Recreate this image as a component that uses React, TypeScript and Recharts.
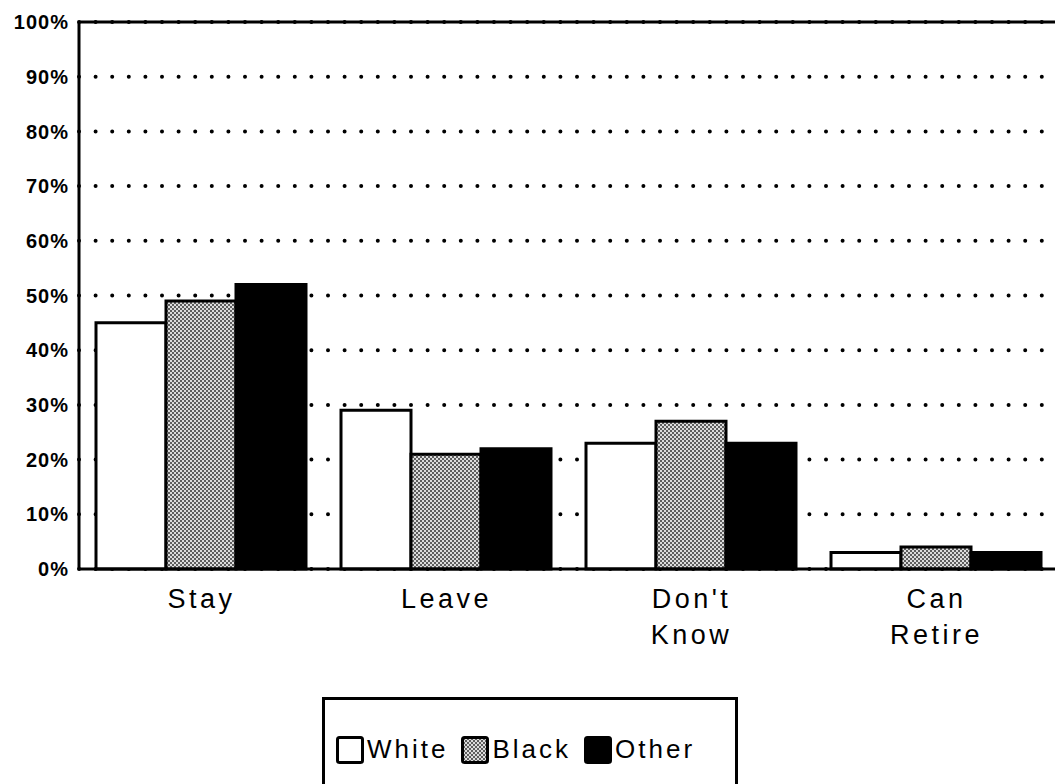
import {
  BarChart, Bar, XAxis, YAxis, CartesianGrid, ReferenceLine, Legend,
} from "recharts";

const categories = ["Stay", "Leave", "Don't\nKnow", "Can\nRetire"];
const white = [45, 29, 23, 3];
const black = [49, 21, 27, 4];
const other = [52, 22, 23, 3];
const yTicks = [0, 10, 20, 30, 40, 50, 60, 70, 80, 90, 100];

const data = categories.map((name, i) => ({
  name, White: white[i], Black: black[i], Other: other[i],
}));

const FONT = "'Liberation Sans', Arial, Helvetica, sans-serif";

const CategoryTick = ({ x, y, payload }: any) => {
  const lines = String(payload.value).split("\n");
  return (
    <text x={x} y={y} textAnchor="middle" fontFamily={FONT} fontSize={27}
      letterSpacing={3.5} fill="#000">
      {lines.map((l, i) => (
        <tspan key={i} x={x} y={y + 39 + i * 36}>{l}</tspan>
      ))}
    </text>
  );
};

const swatch = (fill: string) => (
  <svg width={28} height={28} style={{ display: "block" }}>
    <rect x={1.5} y={1.5} width={25} height={25} rx={2} fill={fill} stroke="#000" strokeWidth={3} />
  </svg>
);

const LegendBox = () => (
  <div style={{
    border: "3px solid #000", width: 416, height: 120, boxSizing: "border-box",
    display: "flex", alignItems: "flex-start", paddingTop: 34, paddingLeft: 11,
    fontFamily: FONT, fontSize: 26, letterSpacing: 3, background: "#fff",
  }}>
    {[["White", "#fff"], ["Black", "url(#stipple)"], ["Other", "#000"]].map(([n, f]) => (
      <div key={n} style={{ display: "flex", alignItems: "center", marginRight: 13 }}>
        {swatch(f)}
        <span style={{ marginLeft: 3 }}>{n}</span>
      </div>
    ))}
  </div>
);

export default function App() {
  return (
    <div style={{ position: "absolute", left: 0, top: 0, width: 1055, height: 784, overflow: "hidden", background: "#fff" }}>
      <svg width={0} height={0} style={{ position: "absolute" }}>
        <defs>
          <pattern id="stipple" patternUnits="userSpaceOnUse" width={4} height={4}>
            <rect width={4} height={4} fill="#dcdcdc" />
            <circle cx={1} cy={1} r={1} fill="#333" />
            <circle cx={3} cy={3} r={1} fill="#333" />
          </pattern>
        </defs>
      </svg>
      <BarChart width={1100} height={784} data={data}
        margin={{ top: 22, right: 41, bottom: 0, left: 0 }}
        barGap={0} barCategoryGap={17}>
        <CartesianGrid horizontal vertical={false} stroke="#000" strokeWidth={4}
          strokeDasharray="0 16.6" strokeLinecap="round" />
        <XAxis dataKey="name" height={215} tickLine={false} tickSize={0} tickMargin={0}
          axisLine={{ stroke: "#000", strokeWidth: 3 }} tick={<CategoryTick />} interval={0} />
        <YAxis domain={[0, 100]} ticks={yTicks} width={79} tickLine={false} tickSize={0}
          tickMargin={10} axisLine={{ stroke: "#000", strokeWidth: 3 }}
          tickFormatter={(v: number) => `${v}%`}
          tick={{ fill: "#000", fontSize: 20, fontWeight: 700, fontFamily: FONT, letterSpacing: 1 }} />
        <ReferenceLine y={100} stroke="#000" strokeWidth={3} />
        <Bar dataKey="White" fill="#fff" stroke="#000" strokeWidth={3} isAnimationActive={false} />
        <Bar dataKey="Black" fill="url(#stipple)" stroke="#000" strokeWidth={3} isAnimationActive={false} />
        <Bar dataKey="Other" fill="#000" stroke="#000" strokeWidth={3} isAnimationActive={false} />
        <Legend layout="horizontal" verticalAlign="middle" align="center"
          wrapperStyle={{ position: "absolute", left: 322, top: 697, width: 416 }}
          content={() => <LegendBox />} />
      </BarChart>
    </div>
  );
}
